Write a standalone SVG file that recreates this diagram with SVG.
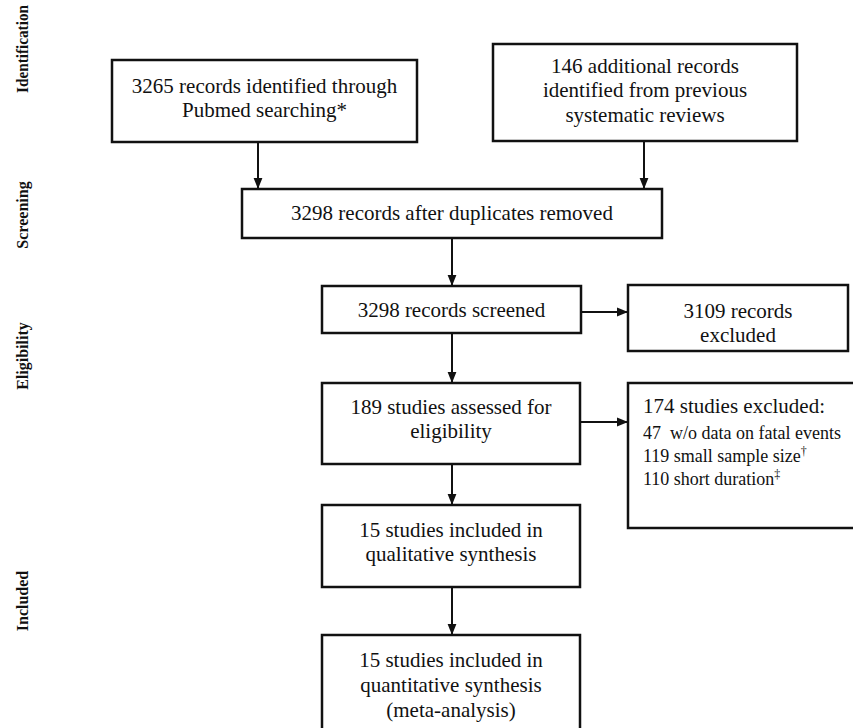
<svg xmlns="http://www.w3.org/2000/svg" width="853" height="728" viewBox="0 0 853 728">
<style>
.box{fill:#fff;stroke:#111;stroke-width:2.5}
.t{font-family:"Liberation Serif","Times New Roman",serif;font-size:21px;fill:#111;text-anchor:middle}
.s{font-family:"Liberation Serif","Times New Roman",serif;font-size:18px;fill:#111;white-space:pre}
.lab{font-family:"Liberation Serif","Times New Roman",serif;font-size:16px;font-weight:bold;fill:#111;text-anchor:middle}
.c{stroke:#111;stroke-width:2;fill:none;marker-end:url(#ah)}
</style>
<defs>
<marker id="ah" viewBox="0 0 10 10" refX="10" refY="5" markerWidth="11" markerHeight="11" markerUnits="userSpaceOnUse" orient="auto">
<path d="M0,1 L10,5 L0,9 Z" fill="#111"/>
</marker>
</defs>
<rect width="853" height="728" fill="#fff"/>
<g id="labels">
<text class="lab" transform="translate(28,49) rotate(-90)" textLength="88" lengthAdjust="spacingAndGlyphs">Identification</text>
<text class="lab" transform="translate(28,215) rotate(-90)">Screening</text>
<text class="lab" transform="translate(28,356) rotate(-90)">Eligibility</text>
<text class="lab" transform="translate(28,601) rotate(-90)">Included</text>
</g>
<g id="connectors">
<line class="c" x1="258" y1="142" x2="258" y2="189"/>
<line class="c" x1="644" y1="141" x2="644" y2="189"/>
<line class="c" x1="452" y1="238" x2="452" y2="286"/>
<line class="c" x1="581" y1="312" x2="628" y2="312"/>
<line class="c" x1="452" y1="333" x2="452" y2="383"/>
<line class="c" x1="580" y1="422" x2="628" y2="422"/>
<line class="c" x1="452" y1="464" x2="452" y2="505"/>
<line class="c" x1="452" y1="587" x2="452" y2="635"/>
</g>
<g id="n1">
<rect class="box" x="112" y="60" width="305" height="82"/>
<text class="t" x="264.5" y="93">3265 records identified through</text>
<text class="t" x="264.5" y="117">Pubmed searching*</text>
</g>
<g id="n2">
<rect class="box" x="493" y="44" width="304" height="97"/>
<text class="t" x="645" y="73">146 additional records</text>
<text class="t" x="645" y="97">identified from previous</text>
<text class="t" x="645" y="122">systematic reviews</text>
</g>
<g id="n3">
<rect class="box" x="242" y="189" width="420" height="49"/>
<text class="t" x="452" y="220">3298 records after duplicates removed</text>
</g>
<g id="n4">
<rect class="box" x="322" y="286" width="259" height="47"/>
<text class="t" x="451.5" y="317">3298 records screened</text>
</g>
<g id="n5">
<rect class="box" x="628" y="285" width="220" height="66"/>
<text class="t" x="738" y="318">3109 records</text>
<text class="t" x="738" y="342">excluded</text>
</g>
<g id="n6">
<rect class="box" x="628" y="383" width="240" height="145"/>
<text class="t" x="643" y="413" style="text-anchor:start">174 studies excluded:</text>
<text class="s" x="643" y="439">47  w/o data on fatal events</text>
<text class="s" x="643" y="462">119 small sample size<tspan dy="-7" font-size="12">†</tspan></text>
<text class="s" x="643" y="485">110 short duration<tspan dy="-7" font-size="12">‡</tspan></text>
</g>
<g id="n7">
<rect class="box" x="322" y="383" width="258" height="81"/>
<text class="t" x="451" y="414">189 studies assessed for</text>
<text class="t" x="451" y="438">eligibility</text>
</g>
<g id="n8">
<rect class="box" x="322" y="505" width="258" height="82"/>
<text class="t" x="451" y="537">15 studies included in</text>
<text class="t" x="451" y="561">qualitative synthesis</text>
</g>
<g id="n9">
<rect class="box" x="322" y="635" width="258" height="110"/>
<text class="t" x="451" y="667">15 studies included in</text>
<text class="t" x="451" y="692">quantitative synthesis</text>
<text class="t" x="451" y="717">(meta-analysis)</text>
</g>
</svg>
